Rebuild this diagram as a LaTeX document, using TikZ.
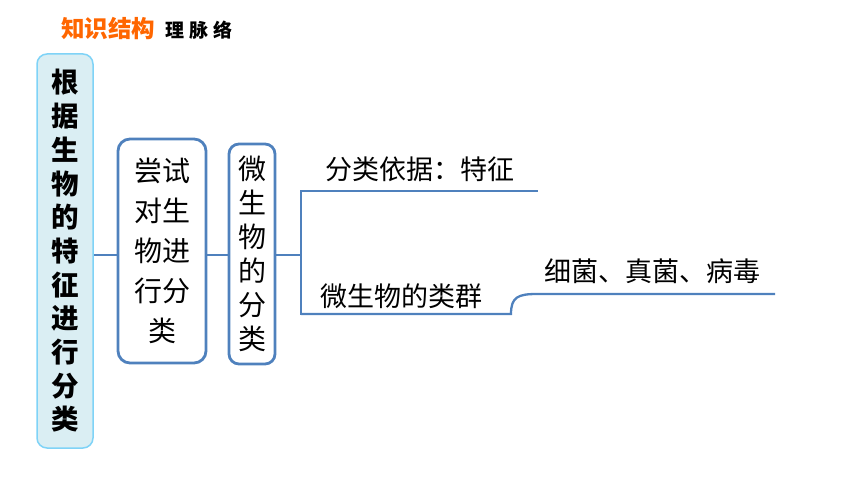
\documentclass[tikz,border=0pt]{standalone}
\usepackage{fontspec}
\setmainfont{Noto Sans CJK SC}
\usetikzlibrary{positioning}
\definecolor{linkblue}{HTML}{4F81BD}
\definecolor{rootfill}{HTML}{DAEEF3}
\definecolor{rootedge}{HTML}{7FD3F7}
\definecolor{titleorange}{HTML}{FF6600}

\begin{document}
\begin{tikzpicture}[x=1pt, y=-1pt]
    \tikzstyle{every node} = [inner sep=0pt, align=center]
    \tikzstyle{box} = [draw=linkblue, line width=2.8pt, rounded corners=12pt]
    \tikzstyle{link} = [draw=linkblue, line width=2.3pt]
    \useasboundingbox (0, 0) rectangle (860, 484);

    \node [anchor=west, text=titleorange, font=\fontsize{23.5}{23.5}\selectfont\bfseries] (title) at (61, 29) {知识结构};
    \node [anchor=west, font=\fontsize{19}{19}\selectfont\bfseries] (subtitle) at (165, 30) {理\hspace{5pt}脉\hspace{5pt}络};

    \node [draw=rootedge, fill=rootfill, line width=1.5pt, rounded corners=10pt,
           minimum width=56, minimum height=394, font=\fontsize{27.5}{33.7}\selectfont\bfseries]
      (root) at (65, 251) {根\\据\\生\\物\\的\\特\\征\\进\\行\\分\\类};
    \node [box, minimum width=88, minimum height=224, font=\fontsize{28}{40}\selectfont]
      (try) at (162, 251) {尝试\\对生\\物进\\行分\\类};
    \node [box, rounded corners=10pt, minimum width=46, minimum height=220, font=\fontsize{28}{34}\selectfont]
      (micro) at (252, 254) {微\\生\\物\\的\\分\\类};

    \coordinate (hub) at (301, 255);
    \coordinate (top) at (301, 191);
    \coordinate (bot) at (301, 314);
    \coordinate (topend) at (538, 191);
    \coordinate (bend) at (511, 314);
    \coordinate (botend) at (775, 294);

    \draw [link] (root.east |- hub) -- (try.west |- hub);
    \draw [link] (try.east |- hub) -- (micro.west |- hub);
    \draw [link] (micro.east |- hub) -- (hub);
    \draw [link, line cap=rect] (top) -- (bot);
    \draw [link] (top) -- (topend);
    \draw [link] (bot) -- (bend) .. controls (511, 297) and (518, 294) .. (537, 294) -- (botend);

    \node [font=\fontsize{27}{27}\selectfont] (basis) at (420, 169) {分类依据：特征};
    \node [font=\fontsize{27}{27}\selectfont] (groups) at (401, 296) {微生物的类群};
    \node [font=\fontsize{27}{27}\selectfont] (kinds) at (652, 271) {细菌、真菌、病毒};
\end{tikzpicture}
\end{document}
